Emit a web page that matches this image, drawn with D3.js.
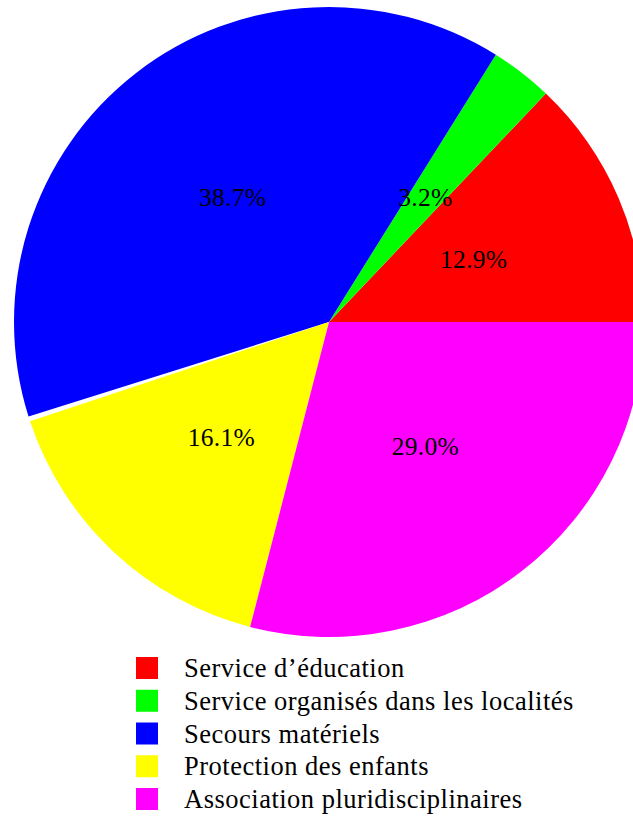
<!DOCTYPE html>
<html>
<head>
<meta charset="utf-8">
<script src="https://cdn.jsdelivr.net/npm/d3@7/dist/d3.min.js"></script>
<style>
html,body{margin:0;padding:0;background:#fff;overflow:hidden;}
</style>
</head>
<body>
<svg id="chart" width="633" height="816"></svg>
<script>
const categories = ["Service d\u2019\u00e9ducation", "Service organis\u00e9s dans les localit\u00e9s", "Secours mat\u00e9riels", "Protection des enfants", "Association pluridisciplinaires"];
const values = [12.9, 3.2, 38.7, 16.1, 29.0];
const colors = ["#ff0000", "#00ff00", "#0000ff", "#ffff00", "#ff00ff"];
const labels = ["12.9%", "3.2%", "38.7%", "16.1%", "29.0%"];

const W = 633, H = 816;
const cx = 329, cy = 322, R = 315;
const gapAfter = 2;          // small empty wedge after the blue slice
const gapDeg = 0.9;

const svg = d3.select("#chart");
const g = svg.append("g").attr("transform", `translate(${cx},${cy})`);

// counterclockwise from 3 o'clock (d3 angles: 0 at 12 o'clock, clockwise)
const pie = d3.pie().sort(null).value(d => d)
  .startAngle(Math.PI / 2).endAngle(Math.PI / 2 - 2 * Math.PI);
const arcsData = pie(values);
const gapRad = gapDeg * Math.PI / 180;
arcsData.forEach((d, i) => {
  if (i === gapAfter + 1) d.startAngle -= gapRad;
});

const arc = d3.arc().innerRadius(0).outerRadius(R);
const labelArc = d3.arc().innerRadius(R * 0.5).outerRadius(R * 0.5);

g.selectAll("path.slice").data(arcsData).enter().append("path")
  .attr("class", "slice")
  .attr("d", arc)
  .attr("fill", (d, i) => colors[i]);

g.selectAll("text.pct").data(arcsData).enter().append("text")
  .attr("class", "pct")
  .attr("transform", d => `translate(${labelArc.centroid(d)})`)
  .attr("text-anchor", "middle")
  .attr("dominant-baseline", "central")
  .attr("font-family", "'Liberation Serif', 'DejaVu Serif', serif")
  .attr("font-size", 25.5)
  .attr("letter-spacing", 0.3)
  .attr("fill", "#000")
  .text((d, i) => labels[i]);

// legend
const lg = svg.append("g").attr("transform", "translate(136,657)");
const rowH = 32.75;
const rows = lg.selectAll("g.row").data(categories).enter().append("g")
  .attr("class", "row")
  .attr("transform", (d, i) => `translate(0,${i * rowH})`);
rows.append("rect").attr("width", 22).attr("height", 22)
  .attr("fill", (d, i) => colors[i]);
rows.append("text")
  .attr("x", 48).attr("y", 11)
  .attr("dominant-baseline", "central")
  .attr("font-family", "'Liberation Serif', 'DejaVu Serif', serif")
  .attr("font-size", 26.5)
  .attr("letter-spacing", 0.5)
  .attr("fill", "#000")
  .text(d => d);
</script>
</body>
</html>
